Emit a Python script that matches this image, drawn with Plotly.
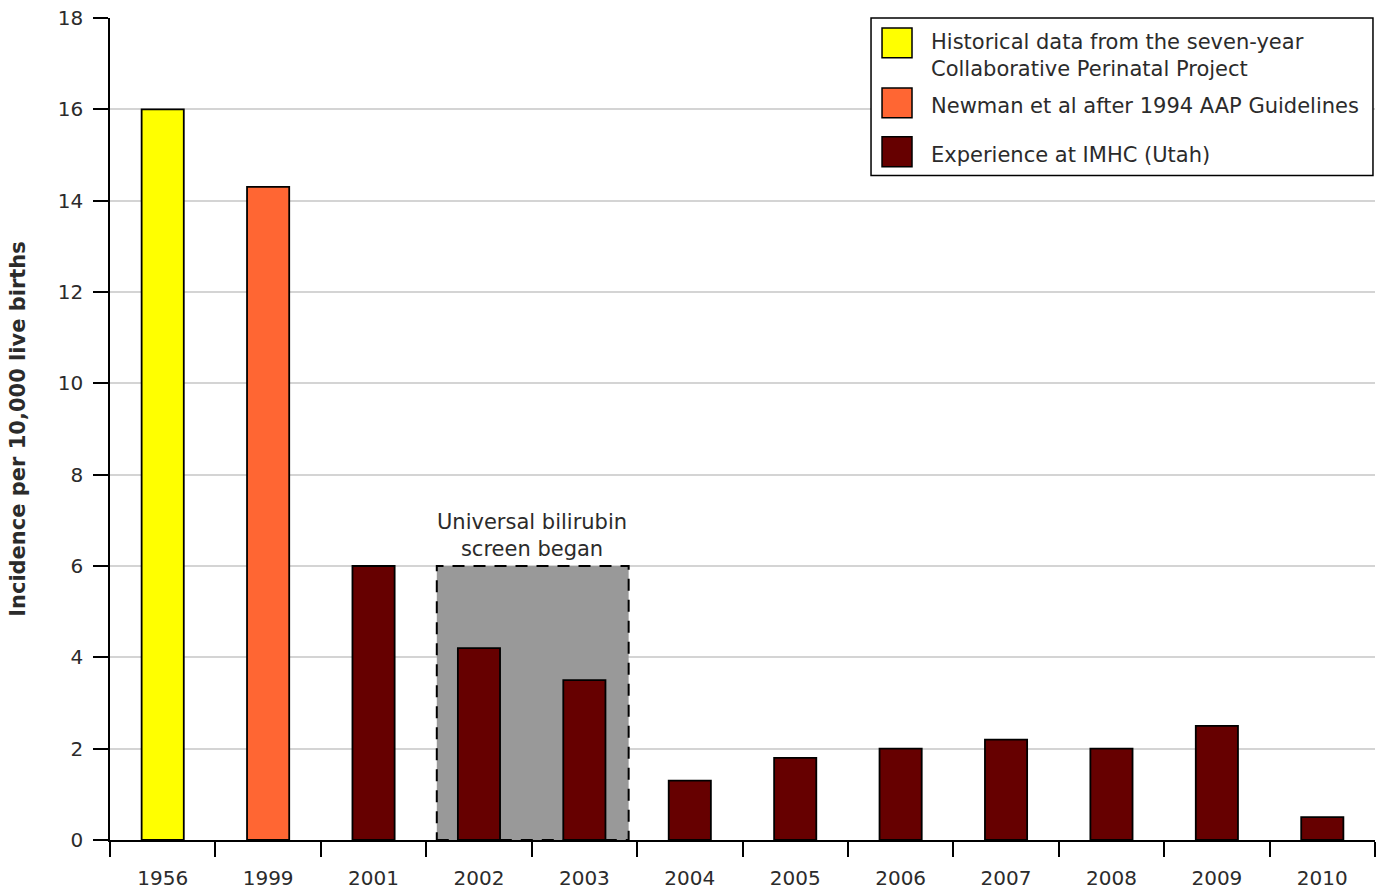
import plotly.graph_objects as go

# Incidence of severe hyperbilirubinemia per 10,000 live births
years = ["1956", "1999", "2001", "2002", "2003", "2004", "2005",
         "2006", "2007", "2008", "2009", "2010"]

historical_years = ["1956"]
historical_vals = [16.0]

newman_years = ["1999"]
newman_vals = [14.3]

imhc_years = ["2001", "2002", "2003", "2004", "2005", "2006",
              "2007", "2008", "2009", "2010"]
imhc_vals = [6.0, 4.2, 3.5, 1.3, 1.8, 2.0, 2.2, 2.0, 2.5, 0.5]

series_names = [
    "Historical data from the seven-year<br>Collaborative Perinatal Project",
    "Newman et al after 1994 AAP Guidelines",
    "Experience at IMHC (Utah)",
]
series_colors = ["#FFFF00", "#FF6633", "#660000"]

y_ticks = [0, 2, 4, 6, 8, 10, 12, 14, 16, 18]

# Screening period band (2002-2003)
band_years = ["2002", "2003"]
band_top = 6
band_label = "Universal bilirubin<br>screen began"

FONT = "DejaVu Sans, Verdana, sans-serif"
TEXT = "#2b2b2b"
FS = 20      # tick labels
FS_TXT = 21  # legend and annotation text

fig = go.Figure()
for xs, ys, name, color in [
    (historical_years, historical_vals, series_names[0], series_colors[0]),
    (newman_years, newman_vals, series_names[1], series_colors[1]),
    (imhc_years, imhc_vals, series_names[2], series_colors[2]),
]:
    fig.add_trace(go.Bar(
        x=xs, y=ys, name=name, width=0.4,
        marker=dict(color=color, line=dict(color="black", width=1.8)),
        showlegend=False,
    ))

# Shaded band behind the screening-period bars
i0 = years.index(band_years[0])
i1 = years.index(band_years[-1])
fig.add_shape(
    type="rect", xref="x", yref="y",
    x0=i0 - 0.4, x1=i1 + 0.42, y0=0, y1=band_top,
    fillcolor="#999999", layer="between",
    line=dict(color="black", width=2, dash="12px,9px"),
)
fig.add_annotation(
    x=(i0 + i1) / 2, y=band_top, xref="x", yref="y",
    text=band_label, showarrow=False, yanchor="bottom", yshift=3,
    font=dict(family=FONT, size=FS_TXT, color=TEXT),
)

# Legend box with swatches (paper coords of the plot area)
fig.add_shape(type="rect", xref="paper", yref="paper",
              x0=0.6016, x1=0.9984, y0=0.8084, y1=1.0,
              line=dict(color="black", width=1.5), fillcolor="white",
              layer="above")
swatch_rows = [(0.9878, 0.9517), (0.9148, 0.8787), (0.8556, 0.8191)]
text_rows = [0.9538, 0.8929, 0.8333]
for (y_top, y_bot), ty, name, color in zip(swatch_rows, text_rows,
                                           series_names, series_colors):
    fig.add_shape(type="rect", xref="paper", yref="paper",
                  x0=0.6103, x1=0.6340, y0=y_bot, y1=y_top,
                  fillcolor=color, line=dict(color="black", width=1.5),
                  layer="above")
    fig.add_annotation(x=0.6475, y=ty, xref="paper", yref="paper",
                       text=name, showarrow=False, xanchor="left",
                       yanchor="middle", align="left",
                       font=dict(family=FONT, size=FS_TXT, color=TEXT))

fig.update_layout(
    width=1385, height=890,
    margin=dict(l=110, r=10, t=18, b=50),
    paper_bgcolor="white", plot_bgcolor="white",
    barmode="overlay",
    font=dict(family=FONT, size=FS, color=TEXT),
    showlegend=False,
    xaxis=dict(
        type="category", categoryorder="array", categoryarray=years,
        range=[-0.5, len(years) - 0.5], automargin=False,
        showline=True, linecolor="black", linewidth=1.5,
        ticks="outside", tickson="boundaries", ticklen=15,
        tickcolor="black", tickwidth=1.5,
        ticklabelstandoff=19,
        tickfont=dict(family=FONT, size=FS, color=TEXT),
        showgrid=False, zeroline=False,
    ),
    yaxis=dict(
        range=[0, 18], tickvals=y_ticks, automargin=False,
        showline=True, linecolor="black", linewidth=1.5,
        ticks="outside", ticklen=15, tickcolor="black", tickwidth=1.5,
        ticklabelstandoff=6,
        tickfont=dict(family=FONT, size=FS, color=TEXT),
        showgrid=True, gridcolor="#d4d4d4", gridwidth=1.5,
        zeroline=False,
        title=dict(text="<b>Incidence per 10,000 live births</b>",
                   font=dict(family=FONT, size=21, color=TEXT), standoff=26),
    ),
)

fig.write_html("out.html")
